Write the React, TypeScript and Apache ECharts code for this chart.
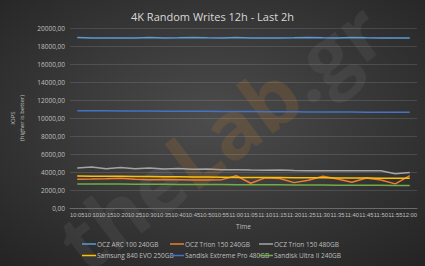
import React, { useEffect, useRef } from "react";
import * as echarts from "echarts";

const categories = [
  "10:05", "10:10", "10:15", "10:20", "10:25", "10:30", "10:35", "10:40",
  "10:45", "10:50", "10:55", "11:00", "11:05", "11:10", "11:15", "11:20",
  "11:25", "11:30", "11:35", "11:40", "11:45", "11:50", "11:55", "12:00",
];

const seriesNames = [
  "OCZ ARC 100 240GB",
  "OCZ Trion 150 240GB",
  "OCZ Trion 150 480GB",
  "Samsung 840 EVO 250GB",
  "Sandisk Extreme Pro 480GB",
  "Sandisk Ultra II 240GB",
];

const seriesColors = ["#5b9bd5", "#ed7d31", "#a5a5a5", "#ffc000", "#4472c4", "#70ad47"];

const arc100 = [
  18950, 18900, 18900, 18880, 18900, 18950, 18900, 18920, 18950, 18920, 18900, 18950,
  18900, 18880, 18900, 18920, 18950, 18920, 18900, 18950, 18920, 18900, 18880, 18880,
];
const trion240 = [
  3200, 3220, 3250, 3300, 3200, 3150, 3180, 3150, 3120, 3100, 3150, 3580,
  2750, 3350, 3280, 2820, 3080, 3540, 3220, 2860, 3330, 3100, 2680, 3600,
];
const trion480 = [
  4450, 4550, 4350, 4500, 4350, 4450, 4320, 4380, 4300, 4320, 4250, 4250,
  4220, 4200, 4220, 4180, 4150, 4150, 4150, 4150, 4150, 4130, 3800, 3950,
];
const evo840 = [
  3550, 3540, 3530, 3520, 3500, 3490, 3480, 3470, 3450, 3440, 3420, 3400,
  3400, 3390, 3380, 3370, 3360, 3350, 3340, 3330, 3320, 3310, 3300, 3300,
];
const extremePro = [
  10810, 10800, 10800, 10790, 10780, 10770, 10760, 10750, 10740, 10740, 10730, 10720,
  10710, 10700, 10700, 10690, 10680, 10670, 10660, 10660, 10650, 10640, 10640, 10630,
];
const ultra2 = [
  2680, 2670, 2660, 2660, 2650, 2640, 2630, 2620, 2610, 2600, 2600, 2590,
  2580, 2570, 2570, 2560, 2560, 2550, 2540, 2540, 2530, 2520, 2510, 2500,
];

const allValues = [arc100, trion240, trion480, evo840, extremePro, ultra2];

const yTicks = { min: 0, max: 20000, interval: 2000 };

const legendCols = [82, 170, 259];
const legendRows = [240.5, 252];

export default function App() {
  const ref = useRef<HTMLDivElement>(null);

  useEffect(() => {
    if (!ref.current) return;
    const chart = echarts.init(ref.current, null, { renderer: "svg" });
    const font = "'Open Sans', 'Liberation Sans', sans-serif";
    const narrow = "'Liberation Sans', sans-serif";
    const labelColor = "#bfbfbf";

    const legends = seriesNames.map((name, i) => ({
      data: [name],
      left: legendCols[i % 3],
      top: legendRows[Math.floor(i / 3)],
      icon: "rect",
      itemWidth: 14,
      itemHeight: 1.5,
      itemGap: 0,
      padding: 0,
      textStyle: { color: labelColor, fontSize: 6.5, fontFamily: font, padding: [0, 0, 0, -4] },
      selectedMode: false,
    }));

    chart.setOption({
      animation: false,
      backgroundColor: {
        type: "radial",
        x: 0.5,
        y: 0.45,
        r: 0.75,
        colorStops: [
          { offset: 0, color: "#4c4c4c" },
          { offset: 1, color: "#232323" },
        ],
      },
      title: {
        text: "4K Random Writes 12h - Last 2h",
        left: "center",
        top: 6,
        textStyle: {
          color: "#d9d9d9",
          fontSize: 11,
          fontWeight: "normal",
          fontFamily: font,
        },
      },
      graphic: [
        {
          type: "text",
          x: 220,
          y: 135,
          rotation: 0.65,
          z: -10,
          silent: true,
          style: {
            text: "{a|the}{b|Lab}{a|.gr}",
            align: "center",
            verticalAlign: "middle",
            rich: {
              a: { fontSize: 80, fontWeight: "bold", fontFamily: font, fill: "rgba(150,150,150,0.12)" },
              b: { fontSize: 80, fontWeight: "bold", fontFamily: font, fill: "rgba(205,130,40,0.17)" },
            },
          },
        },
      ],
      legend: legends,
      grid: { left: 64, right: 8, top: 28, bottom: 58, containLabel: false },
      xAxis: {
        type: "category",
        data: categories,
        boundaryGap: true,
        name: "Time",
        nameLocation: "middle",
        nameGap: 14,
        nameTextStyle: { color: labelColor, fontSize: 6.5, fontFamily: font },
        axisLine: { lineStyle: { color: "#6a6a6a" } },
        axisTick: { show: false },
        axisLabel: { interval: 0, color: labelColor, fontSize: 5.8, fontFamily: narrow, margin: 4 },
      },
      yAxis: {
        type: "value",
        min: yTicks.min,
        max: yTicks.max,
        interval: yTicks.interval,
        name: "IOPS\n(higher is better)",
        nameLocation: "middle",
        nameRotate: 90,
        nameGap: 44,
        nameTextStyle: { color: labelColor, fontSize: 6, fontFamily: font, lineHeight: 9 },
        axisLine: { show: false },
        axisTick: { show: false },
        splitLine: { lineStyle: { color: "rgba(255,255,255,0.12)", width: 1 } },
        axisLabel: {
          color: labelColor,
          fontSize: 6.5,
          fontFamily: font,
          margin: 5,
          formatter: (v: number) => v.toFixed(2).replace(".", ","),
        },
      },
      series: seriesNames.map((name, i) => ({
        name,
        type: "line",
        data: allValues[i],
        showSymbol: false,
        symbol: "none",
        z: 3,
        lineStyle: { color: seriesColors[i], width: 1.5 },
        itemStyle: { color: seriesColors[i] },
      })),
    });

    return () => chart.dispose();
  }, []);

  return (
    <div
      ref={ref}
      style={{ position: "absolute", left: 0, top: 0, width: 425, height: 266 }}
    />
  );
}
